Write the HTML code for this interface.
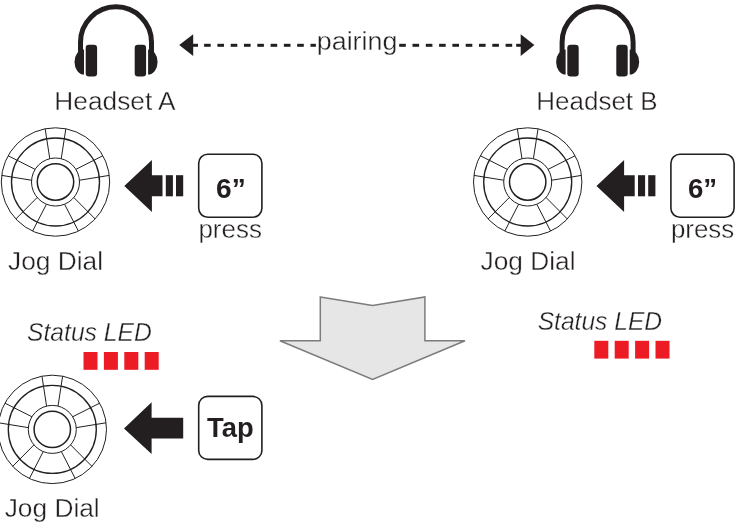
<!DOCTYPE html>
<html><head><meta charset="utf-8"><title>Pairing</title>
<style>
html,body{margin:0;padding:0;background:#fff;overflow:hidden;}
svg{display:block;font-family:"Liberation Sans",sans-serif;will-change:transform;}
</style></head>
<body>
<svg width="743" height="526" viewBox="0 0 743 526">
<rect width="743" height="526" fill="#fff"/>
<g transform="translate(0.00,0)" fill="#231f20">
<path d="M80.5 52 V42.3 A35.5 35.5 0 0 1 151.5 42.3 V52" fill="none" stroke="#231f20" stroke-width="5"/>
<rect x="85.7" y="44.8" width="11.4" height="31.7" rx="3.2"/>
<rect x="134.7" y="44.8" width="11.4" height="31.7" rx="3.2"/>
<path d="M84 49.4 A9.5 12.6 0 0 0 84 74.6 Z"/>
<path d="M148.1 49.4 A9.5 12.6 0 0 1 148.1 74.6 Z"/>
</g>
<g transform="translate(481.60,0)" fill="#231f20">
<path d="M80.5 52 V42.3 A35.5 35.5 0 0 1 151.5 42.3 V52" fill="none" stroke="#231f20" stroke-width="5"/>
<rect x="85.7" y="44.8" width="11.4" height="31.7" rx="3.2"/>
<rect x="134.7" y="44.8" width="11.4" height="31.7" rx="3.2"/>
<path d="M84 49.4 A9.5 12.6 0 0 0 84 74.6 Z"/>
<path d="M148.1 49.4 A9.5 12.6 0 0 1 148.1 74.6 Z"/>
</g>
<path d="M179.2 44.9 L193.2 34.2 V56.1 Z" fill="#231f20"/>
<rect x="193" y="43.8" width="5" height="3.0" fill="#231f20"/>
<rect x="204.10" y="43.8" width="6.6" height="3.0" fill="#231f20"/>
<rect x="217.40" y="43.8" width="6.6" height="3.0" fill="#231f20"/>
<rect x="230.70" y="43.8" width="6.6" height="3.0" fill="#231f20"/>
<rect x="244.00" y="43.8" width="6.6" height="3.0" fill="#231f20"/>
<rect x="257.30" y="43.8" width="6.6" height="3.0" fill="#231f20"/>
<rect x="270.60" y="43.8" width="6.6" height="3.0" fill="#231f20"/>
<rect x="283.90" y="43.8" width="6.6" height="3.0" fill="#231f20"/>
<rect x="297.20" y="43.8" width="6.6" height="3.0" fill="#231f20"/>
<rect x="310.50" y="43.8" width="5.4" height="3.0" fill="#231f20"/>
<rect x="399.20" y="43.8" width="6.6" height="3.0" fill="#231f20"/>
<rect x="412.50" y="43.8" width="6.6" height="3.0" fill="#231f20"/>
<rect x="425.80" y="43.8" width="6.6" height="3.0" fill="#231f20"/>
<rect x="439.10" y="43.8" width="6.6" height="3.0" fill="#231f20"/>
<rect x="452.40" y="43.8" width="6.6" height="3.0" fill="#231f20"/>
<rect x="465.70" y="43.8" width="6.6" height="3.0" fill="#231f20"/>
<rect x="479.00" y="43.8" width="6.6" height="3.0" fill="#231f20"/>
<rect x="492.30" y="43.8" width="6.6" height="3.0" fill="#231f20"/>
<rect x="505.60" y="43.8" width="6.6" height="3.0" fill="#231f20"/>
<rect x="516.2" y="43.8" width="5" height="3.0" fill="#231f20"/>
<path d="M534.4 44.9 L520.7 34.2 V56.1 Z" fill="#231f20"/>
<g fill="none" stroke="#231f20" stroke-linecap="butt">
<circle cx="55.5" cy="182" r="54.2" stroke-width="1"/>
<circle cx="55.5" cy="182" r="44" stroke-width="1.35"/>
<circle cx="55.5" cy="182" r="24" stroke-width="1"/>
<circle cx="55.5" cy="182" r="18.2" stroke-width="1.5"/>
<line x1="65.84" y1="128.80" x2="61.22" y2="158.69" stroke-width="1"/>
<line x1="45.16" y1="128.80" x2="49.78" y2="158.69" stroke-width="1"/>
<line x1="8.10" y1="155.72" x2="35.10" y2="169.35" stroke-width="1"/>
<line x1="1.70" y1="175.39" x2="31.56" y2="180.24" stroke-width="1"/>
<line x1="15.86" y1="218.96" x2="37.17" y2="197.49" stroke-width="1"/>
<line x1="32.59" y1="231.12" x2="46.43" y2="204.22" stroke-width="1"/>
<line x1="78.41" y1="231.12" x2="64.57" y2="204.22" stroke-width="1"/>
<line x1="95.14" y1="218.96" x2="73.83" y2="197.49" stroke-width="1"/>
<line x1="109.30" y1="175.39" x2="79.44" y2="180.24" stroke-width="1"/>
<line x1="102.90" y1="155.72" x2="75.90" y2="169.35" stroke-width="1"/>
</g>
<g fill="none" stroke="#231f20" stroke-linecap="butt">
<circle cx="527.7" cy="182" r="54.2" stroke-width="1"/>
<circle cx="527.7" cy="182" r="44" stroke-width="1.35"/>
<circle cx="527.7" cy="182" r="24" stroke-width="1"/>
<circle cx="527.7" cy="182" r="18.2" stroke-width="1.5"/>
<line x1="538.04" y1="128.80" x2="533.42" y2="158.69" stroke-width="1"/>
<line x1="517.36" y1="128.80" x2="521.98" y2="158.69" stroke-width="1"/>
<line x1="480.30" y1="155.72" x2="507.30" y2="169.35" stroke-width="1"/>
<line x1="473.90" y1="175.39" x2="503.76" y2="180.24" stroke-width="1"/>
<line x1="488.06" y1="218.96" x2="509.37" y2="197.49" stroke-width="1"/>
<line x1="504.79" y1="231.12" x2="518.63" y2="204.22" stroke-width="1"/>
<line x1="550.61" y1="231.12" x2="536.77" y2="204.22" stroke-width="1"/>
<line x1="567.34" y1="218.96" x2="546.03" y2="197.49" stroke-width="1"/>
<line x1="581.50" y1="175.39" x2="551.64" y2="180.24" stroke-width="1"/>
<line x1="575.10" y1="155.72" x2="548.10" y2="169.35" stroke-width="1"/>
</g>
<g fill="none" stroke="#231f20" stroke-linecap="butt">
<circle cx="52.3" cy="429.4" r="54.2" stroke-width="1"/>
<circle cx="52.3" cy="429.4" r="44" stroke-width="1.35"/>
<circle cx="52.3" cy="429.4" r="24" stroke-width="1"/>
<circle cx="52.3" cy="429.4" r="18.2" stroke-width="1.5"/>
<line x1="62.64" y1="376.20" x2="58.02" y2="406.09" stroke-width="1"/>
<line x1="41.96" y1="376.20" x2="46.58" y2="406.09" stroke-width="1"/>
<line x1="4.90" y1="403.12" x2="31.90" y2="416.75" stroke-width="1"/>
<line x1="-1.50" y1="422.79" x2="28.36" y2="427.64" stroke-width="1"/>
<line x1="12.66" y1="466.36" x2="33.97" y2="444.89" stroke-width="1"/>
<line x1="29.39" y1="478.52" x2="43.23" y2="451.62" stroke-width="1"/>
<line x1="75.21" y1="478.52" x2="61.37" y2="451.62" stroke-width="1"/>
<line x1="91.94" y1="466.36" x2="70.63" y2="444.89" stroke-width="1"/>
<line x1="106.10" y1="422.79" x2="76.24" y2="427.64" stroke-width="1"/>
<line x1="99.70" y1="403.12" x2="72.70" y2="416.75" stroke-width="1"/>
</g>
<g transform="translate(0,0)" fill="#231f20">
<path d="M124.3 185.9 L151.9 160 V175.2 H162.5 V196.3 H151.9 V211.9 Z"/>
<rect x="165.8" y="175.2" width="7.1" height="21.1"/>
<rect x="176" y="175.2" width="7.2" height="21.1"/>
</g>
<g transform="translate(472.2,0)" fill="#231f20">
<path d="M124.3 185.9 L151.9 160 V175.2 H162.5 V196.3 H151.9 V211.9 Z"/>
<rect x="165.8" y="175.2" width="7.1" height="21.1"/>
<rect x="176" y="175.2" width="7.2" height="21.1"/>
</g>
<rect x="198.7" y="154.2" width="63.2" height="63.0" rx="9" fill="#fff" stroke="#231f20" stroke-width="1.6"/>
<rect x="670.9" y="154.2" width="63.2" height="63.0" rx="9" fill="#fff" stroke="#231f20" stroke-width="1.6"/>
<path d="M320.3 297 L372.6 305.4 L424.9 297 V340.8 H465 L372.6 379.5 L279.9 340.8 H320.3 Z" fill="#e6e6e6" stroke="#7c7c7c" stroke-width="1.5" stroke-linejoin="miter"/>
<rect x="83.50" y="352" width="14" height="17.8" fill="#ed1c24"/><rect x="103.90" y="352" width="14" height="17.8" fill="#ed1c24"/><rect x="124.30" y="352" width="14" height="17.8" fill="#ed1c24"/><rect x="144.70" y="352" width="14" height="17.8" fill="#ed1c24"/>
<rect x="594.30" y="340.8" width="14" height="17.8" fill="#ed1c24"/><rect x="614.70" y="340.8" width="14" height="17.8" fill="#ed1c24"/><rect x="635.10" y="340.8" width="14" height="17.8" fill="#ed1c24"/><rect x="655.50" y="340.8" width="14" height="17.8" fill="#ed1c24"/>
<path d="M124 428.4 L151.6 402.2 V417.7 H183.2 V438.6 H151.6 V453.9 Z" fill="#231f20"/>
<rect x="198.7" y="396.4" width="63.2" height="63.0" rx="9" fill="#fff" stroke="#231f20" stroke-width="1.6"/>
<text x="316.8" y="49.9" textLength="80.6" lengthAdjust="spacingAndGlyphs" font-size="26" font-weight="normal" font-style="normal" fill="#231f20" stroke="#fff" stroke-width="0.35">pairing</text>
<text x="54.3" y="110" textLength="121.3" lengthAdjust="spacingAndGlyphs" font-size="26" font-weight="normal" font-style="normal" fill="#231f20" stroke="#fff" stroke-width="0.35">Headset A</text>
<text x="536.3" y="110" textLength="121.3" lengthAdjust="spacingAndGlyphs" font-size="26" font-weight="normal" font-style="normal" fill="#231f20" stroke="#fff" stroke-width="0.35">Headset B</text>
<text x="216.0" y="198.0" textLength="29.7" lengthAdjust="spacingAndGlyphs" font-size="27.8" font-weight="bold" font-style="normal" fill="#231f20">6”</text>
<text x="687.9" y="198.0" textLength="29.2" lengthAdjust="spacingAndGlyphs" font-size="27.8" font-weight="bold" font-style="normal" fill="#231f20">6”</text>
<text x="198.4" y="238" textLength="63.6" lengthAdjust="spacingAndGlyphs" font-size="25" font-weight="normal" font-style="normal" fill="#231f20" stroke="#fff" stroke-width="0.35">press</text>
<text x="670.9" y="238" textLength="63.300000000000004" lengthAdjust="spacingAndGlyphs" font-size="25" font-weight="normal" font-style="normal" fill="#231f20" stroke="#fff" stroke-width="0.35">press</text>
<text x="8" y="270.1" textLength="95" lengthAdjust="spacingAndGlyphs" font-size="26" font-weight="normal" font-style="normal" fill="#231f20" stroke="#fff" stroke-width="0.35">Jog Dial</text>
<text x="480.59999999999997" y="270.1" textLength="95" lengthAdjust="spacingAndGlyphs" font-size="26" font-weight="normal" font-style="normal" fill="#231f20" stroke="#fff" stroke-width="0.35">Jog Dial</text>
<text x="4.7" y="517" textLength="95" lengthAdjust="spacingAndGlyphs" font-size="26" font-weight="normal" font-style="normal" fill="#231f20" stroke="#fff" stroke-width="0.35">Jog Dial</text>
<text x="27" y="340.8" textLength="124.80000000000001" lengthAdjust="spacingAndGlyphs" font-size="26" font-weight="normal" font-style="italic" fill="#231f20" stroke="#fff" stroke-width="0.35">Status LED</text>
<text x="537.7" y="330.1" textLength="124.4" lengthAdjust="spacingAndGlyphs" font-size="26" font-weight="normal" font-style="italic" fill="#231f20" stroke="#fff" stroke-width="0.35">Status LED</text>
<text x="207.0" y="436.8" textLength="46.6" lengthAdjust="spacingAndGlyphs" font-size="27.8" font-weight="bold" font-style="normal" fill="#231f20">Tap</text>
</svg>
</body></html>
